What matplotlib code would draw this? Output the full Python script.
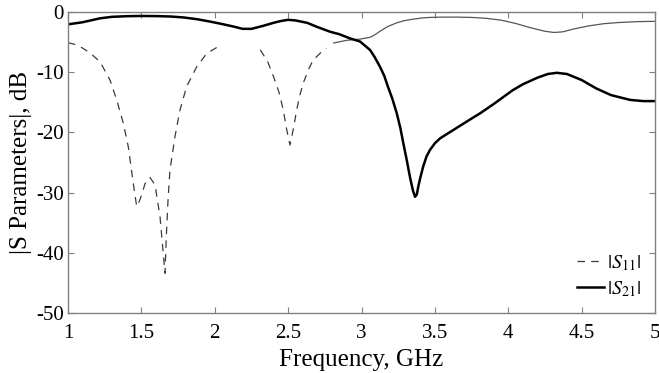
import numpy as np
import matplotlib
matplotlib.use("Agg")
import matplotlib.pyplot as plt

plt.rcParams['font.family'] = ['Liberation Serif', 'DejaVu Serif']
plt.rcParams['mathtext.fontset'] = 'stix'

# |S21| (thick solid)
f21 = [1.0, 1.1, 1.218, 1.3, 1.4, 1.49, 1.6, 1.7, 1.786, 1.88, 1.97, 2.05, 2.125, 2.19, 2.25,
       2.33, 2.4, 2.45, 2.5, 2.55, 2.63, 2.7, 2.785, 2.85, 2.92, 2.99, 3.058, 3.09, 3.126, 3.155,
       3.18, 3.21, 3.24, 3.265, 3.285, 3.31, 3.33, 3.35, 3.365, 3.377, 3.387, 3.40, 3.42, 3.443,
       3.467, 3.5, 3.535, 3.58, 3.626, 3.717, 3.81, 3.9, 4.03, 4.1, 4.2, 4.27, 4.33, 4.4,
       4.5, 4.6, 4.7, 4.83, 4.92, 5.0]
s21 = [-2.05, -1.7, -1.05, -0.8, -0.7, -0.66, -0.68, -0.75, -0.9, -1.2, -1.6, -2.0, -2.4, -2.8, -2.8,
       -2.3, -1.8, -1.5, -1.3, -1.4, -1.8, -2.5, -3.27, -3.7, -4.37, -4.9, -6.3, -7.5, -9.1, -10.6,
       -12.4, -14.4, -16.8, -19.3, -21.8, -24.8, -27.4, -29.6, -30.7, -30.3, -29.0, -27.6, -25.7, -24.0,
       -22.9, -21.8, -21.0, -20.3, -19.6, -18.2, -16.8, -15.3, -13.0, -12.0, -10.9, -10.3, -10.1, -10.3,
       -11.3, -12.7, -13.8, -14.6, -14.8, -14.8]

# |S11| (dashed part)
f11 = [1.0, 1.05, 1.1, 1.15, 1.218, 1.286, 1.332, 1.377, 1.411, 1.445, 1.468, 1.485, 1.502, 1.525,
       1.559, 1.593, 1.627, 1.645, 1.661, 1.67, 1.682, 1.695, 1.729, 1.763, 1.808, 1.877, 1.945,
       2.013, 2.03, 2.31, 2.36, 2.40, 2.44, 2.467, 2.49, 2.513, 2.535, 2.558, 2.58, 2.603,
       2.64, 2.67, 2.72, 2.76]
s11 = [-5.1, -5.4, -6.0, -6.8, -8.25, -11.3, -14.6, -18.5, -22.4, -28.5, -32.3, -31.5, -30.4, -28.5,
       -27.5, -28.7, -34.0, -39.0, -43.4, -37.3, -31.0, -26.2, -20.7, -16.3, -12.4, -9.1, -6.9,
       -5.9, np.nan, -6.3, -8.2, -10.7, -13.5, -16.3, -19.5, -22.1, -19.5, -16.3, -13.8, -11.8,
       -9.5, -8.0, -6.8, -6.0]

# thin solid continuation
f11b = [2.81, 2.90, 2.99, 3.058, 3.09, 3.126, 3.18, 3.24, 3.29, 3.35, 3.41, 3.467, 3.55, 3.65,
        3.75, 3.85, 3.95, 4.05, 4.15, 4.25, 4.31, 4.37, 4.45, 4.55, 4.65, 4.75, 4.88, 5.0]
s11b = [-5.15, -4.7, -4.5, -4.2, -3.8, -3.2, -2.4, -1.8, -1.45, -1.2, -1.0, -0.9, -0.85, -0.85,
        -0.9, -1.05, -1.35, -1.9, -2.6, -3.2, -3.4, -3.3, -2.8, -2.3, -1.95, -1.75, -1.6, -1.55]

xticks = [1, 1.5, 2, 2.5, 3, 3.5, 4, 4.5, 5]
xticklabels = ['1', '1.5', '2', '2.5', '3', '3.5', '4', '4.5', '5']
yticks = [-50, -40, -30, -20, -10, 0]
yticklabels = ['-50', '-40', '-30', '-20', '-10', '0']

fig = plt.figure(figsize=(6.59, 3.73), dpi=100)
ax = fig.add_axes([68/659, 1 - 313/373, (655-68)/659, (313-12)/373])

ax.plot(f11, s11, color='#3a3a3a', lw=0.9, ls=(0, (6, 5)), label=r'$|S_{11}|$')
ax.plot(f11b, s11b, color='#555555', lw=0.9, solid_joinstyle='round')
ax.plot(f21, s21, color='black', lw=1.8, label=r'$|S_{21}|$', solid_joinstyle='round')

ax.set_xlim(1, 5)
ax.set_ylim(-50, 0)
ax.set_xticks(xticks)
ax.set_xticklabels(xticklabels, fontfamily='Liberation Serif')
ax.set_yticks(yticks)
ax.set_yticklabels(yticklabels, fontfamily='Liberation Serif')
ax.tick_params(direction='in', top=True, right=True, labelsize=15, length=4,
               color='#808080')
ax.tick_params(axis='x', pad=8)
ax.tick_params(axis='y', pad=3)
for sp in ax.spines.values():
    sp.set_color('#808080')
    sp.set_linewidth(1.0)

ax.set_xlabel('Frequency, GHz', fontsize=18, labelpad=4)
ax.set_ylabel('|S Parameters|, dB', fontsize=18, labelpad=3)

leg = ax.legend(loc='lower right', frameon=False, fontsize=14.5, handlelength=1.35,
                handletextpad=0.15, borderaxespad=0.3, labelspacing=0.3)

fig.savefig('out.png', dpi=100)
